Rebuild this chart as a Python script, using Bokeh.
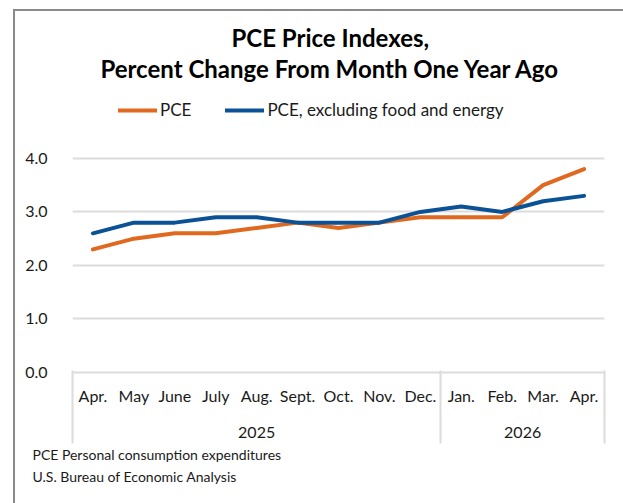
from bokeh.plotting import figure
from bokeh.models import (Range1d, Legend, LegendItem, Title, Label, LinearAxis,
                          NumeralTickFormatter, FixedTicker, InlineStyleSheet)
from bokeh.embed import file_html
from bokeh.resources import INLINE

years = ["2025"] * 9 + ["2026"] * 4
months = ["Apr.", "May", "June", "July", "Aug.", "Sept.", "Oct.", "Nov.", "Dec.",
          "Jan.", "Feb.", "Mar.", "Apr."]
pce = [2.3, 2.5, 2.6, 2.6, 2.7, 2.8, 2.7, 2.8, 2.9, 2.9, 2.9, 3.5, 3.8]
core = [2.6, 2.8, 2.8, 2.9, 2.9, 2.8, 2.8, 2.8, 3.0, 3.1, 3.0, 3.2, 3.3]
y_ticks = [0, 1, 2, 3, 4]
title_lines = ["PCE Price Indexes,", "Percent Change From Month One Year Ago"]
legend_labels = ["PCE", "PCE, excluding food and energy"]
notes = ["PCE Personal consumption expenditures", "U.S. Bureau of Economic Analysis"]

FONT = "Lato"
TXT = "#1a1a1a"
GRID = "#dcdcdc"
W, H = 623, 503

# month slots on the x axis (one slot per month), year groups centred on their months
xs = list(range(len(months)))
year_names = sorted(set(years))
year_slots = {y: [i for i, yy in enumerate(years) if yy == y] for y in year_names}
year_centres = [sum(s) / len(s) for s in year_slots.values()]
group_edges = [year_slots[year_names[0]][0] - 0.5] + [s[-1] + 0.5 for s in year_slots.values()]

# the frame reaches the top of the canvas, so the title and legend sit inside it
p = figure(width=W, height=H, output_backend="svg", toolbar_location=None,
           x_range=Range1d(xs[0] - 0.5, xs[-1] + 0.5), y_range=Range1d(0, 6.95),
           x_axis_location=None,
           min_border_left=72, min_border_right=19, min_border_top=0,
           min_border_bottom=131)
p.outline_line_color = None
p.background_fill_color = "white"
p.border_fill_color = "white"
p.stylesheets = [InlineStyleSheet(css=":host::after { content: ''; position: absolute; left: 13px; top: 9px; "
                                      "width: 620px; height: 500px; border-left: 2px solid #8a8a8a; "
                                      "border-top: 2px solid #8a8a8a; pointer-events: none; }")]

r1 = p.line(xs, pce, line_color="#E0691F", line_width=4, line_cap="round", line_join="round")
r2 = p.line(xs, core, line_color="#0B5196", line_width=4, line_cap="round", line_join="round")

p.xgrid.grid_line_color = None
p.ygrid.grid_line_color = GRID
p.ygrid.grid_line_width = 2
p.yaxis.ticker = FixedTicker(ticks=y_ticks)
p.yaxis.formatter = NumeralTickFormatter(format="0.0")
p.yaxis.axis_line_color = None
p.yaxis.major_tick_line_color = None
p.yaxis.minor_tick_line_color = None
p.yaxis.major_label_standoff = 19
p.yaxis.major_label_text_font = FONT
p.yaxis.major_label_text_font_size = "16px"
p.yaxis.major_label_text_color = TXT

month_axis = LinearAxis(ticker=FixedTicker(ticks=xs),
                        major_label_overrides={x: m for x, m in zip(xs, months)},
                        axis_line_color=GRID, axis_line_width=2,
                        major_tick_line_color=None, minor_tick_line_color=None,
                        major_tick_out=0, major_tick_in=0, major_label_standoff=13,
                        major_label_text_font=FONT, major_label_text_font_size="16px",
                        major_label_text_color=TXT)
p.add_layout(month_axis, "below")

# year labels; the minor ticks at the year boundaries draw the box round the month labels
year_axis = LinearAxis(ticker=FixedTicker(ticks=year_centres, minor_ticks=group_edges),
                       major_label_overrides={c: y for c, y in zip(year_centres, year_names)},
                       axis_line_color=None, major_tick_line_color=None,
                       major_tick_out=0, major_tick_in=0,
                       minor_tick_line_color=GRID, minor_tick_line_width=2,
                       minor_tick_in=37, minor_tick_out=36, major_label_standoff=-17,
                       major_label_text_font=FONT, major_label_text_font_size="16px",
                       major_label_text_color=TXT)
p.add_layout(year_axis, "below")

for t, so in zip(notes, [6, 1]):
    p.add_layout(Title(text=t, align="left", offset=-40, text_font=FONT, text_font_size="14px",
                       text_font_style="normal", text_color=TXT, standoff=so), "below")

legend = Legend(items=[LegendItem(label=legend_labels[0], renderers=[r1]),
                       LegendItem(label=legend_labels[1], renderers=[r2])],
                orientation="horizontal", location=(46, 252),
                glyph_width=39, glyph_height=20, label_standoff=3, spacing=34,
                padding=0, margin=0, border_line_color=None, background_fill_alpha=0,
                label_text_font=FONT, label_text_font_size="17px", label_text_color=TXT)
p.add_layout(legend, "center")

for t, yv in zip(title_lines, [6.26, 5.68]):
    p.add_layout(Label(x=5.8, y=yv, text=t, text_align="center", text_baseline="middle",
                       text_font=FONT, text_font_style="bold", text_font_size="24px",
                       text_color="black"))

open("out.html", "w").write(file_html(p, INLINE))
